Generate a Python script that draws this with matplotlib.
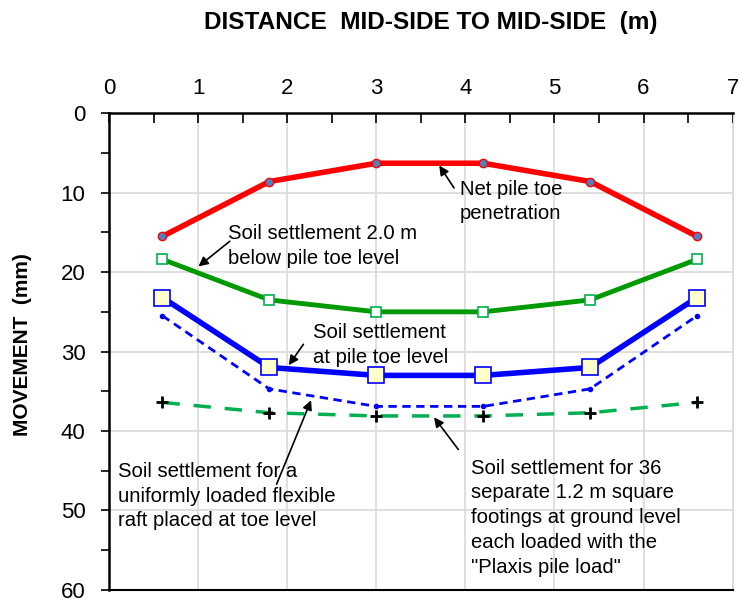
import numpy as np
import matplotlib
matplotlib.use("Agg")
import matplotlib.pyplot as plt
from matplotlib.ticker import MultipleLocator

plt.rcParams['font.family'] = ['Liberation Sans', 'DejaVu Sans']

# ---------------------------------------------------------------------
# data
# ---------------------------------------------------------------------
distance = [0.6, 1.8, 3.0, 4.2, 5.4, 6.6]
net_pile_toe = [15.5, 8.6, 6.3, 6.3, 8.6, 15.5]
soil_below_toe = [18.4, 23.5, 25.0, 25.0, 23.5, 18.4]
soil_at_toe = [23.2, 32.0, 33.0, 33.0, 32.0, 23.2]
flexible_raft = [25.5, 34.7, 36.9, 36.9, 34.7, 25.5]
separate_footings = [36.4, 37.7, 38.1, 38.1, 37.7, 36.4]

x_label = "DISTANCE  MID-SIDE TO MID-SIDE  (m)"
y_label = "MOVEMENT  (mm)"

fig = plt.figure(figsize=(7.38, 6.02), dpi=100)
ax = fig.add_axes([0.1477, 0.020, 0.845, 0.792])

# series
ax.plot(distance, net_pile_toe, color='#ff0000', lw=4, marker='o', ms=6,
        mfc='#4f81bd', mec='#ff0000', mew=1, zorder=5)
ax.plot(distance, soil_below_toe, color='#009a00', lw=3.5, marker='s', ms=7,
        mfc='white', mec='#00b050', mew=1.2, zorder=5)
ax.plot(distance, soil_at_toe, color='#0000ff', lw=4, marker='s', ms=11,
        mfc='#ffffcc', mec='#0000ff', mew=1.2, zorder=6)
ax.plot(distance, flexible_raft, color='#0000ff', lw=2, ls=(0, (3, 2)),
        marker='o', ms=3, zorder=4)
ax.plot(distance, separate_footings, color='#00b050', lw=2.5, ls=(0, (5, 4)),
        marker='+', ms=9, mec='black', mew=2, zorder=4)

# axes
ax.set_xlim(0, 7)
ax.set_ylim(60, 0)
ax.xaxis.set_major_locator(MultipleLocator(1))
ax.xaxis.set_minor_locator(MultipleLocator(0.5))
ax.yaxis.set_major_locator(MultipleLocator(10))
ax.yaxis.set_minor_locator(MultipleLocator(5))
ax.xaxis.tick_top()
ax.tick_params(axis='x', which='both', direction='in', length=7, width=1.2,
               labelsize=16, pad=10.5)
ax.tick_params(axis='y', which='both', direction='out', length=6, width=1.2,
               labelsize=16, pad=11)
ax.tick_params(axis='x', which='both', bottom=False)
ax.tick_params(axis='y', which='both', right=False)

ax.grid(True, which='major', color='#d9d9d9', lw=1.2)
ax.set_axisbelow(True)
for side in ['left', 'top']:
    ax.spines[side].set_linewidth(1.8)
ax.spines['bottom'].set_linewidth(1.5)
ax.spines['right'].set_color('#d9d9d9')

fig.text(0.583, 0.963, x_label, fontsize=17.6, fontweight='bold',
         ha='center', va='center')
fig.text(0.030, 0.427, y_label, fontsize=15, fontweight='bold',
         ha='center', va='center', rotation=90)

# annotations
arrow = dict(arrowstyle='-|>', color='black', lw=1.2, mutation_scale=14)
note = dict(fontsize=14.6, ha='left', va='center', linespacing=1.38)

ax.annotate("", xy=(3.69, 6.3), xytext=(3.89, 9.7), arrowprops=arrow)
ax.text(3.94, 11.1, "Net pile toe\npenetration", **note)

ax.annotate("", xy=(0.98, 19.5), xytext=(1.38, 15.9), arrowprops=arrow)
ax.text(1.34, 16.7, "Soil settlement 2.0 m\nbelow pile toe level", **note)

ax.annotate("", xy=(2.0, 32.0), xytext=(2.2, 28.8), arrowprops=arrow)
ax.text(2.29, 29.2, "Soil settlement\nat pile toe level", **note)

ax.annotate("", xy=(2.28, 35.8), xytext=(1.87, 47.0), arrowprops=arrow)
ax.text(0.10, 48.2, "Soil settlement for a\nuniformly loaded flexible\nraft placed at toe level",
        **note)

ax.annotate("", xy=(3.63, 38.0), xytext=(3.94, 42.6), arrowprops=arrow)
ax.text(4.06, 50.9, "Soil settlement for 36\nseparate 1.2 m square\nfootings at ground level\neach loaded with the\n\"Plaxis pile load\"",
        **note)

fig.savefig("out.png", dpi=100)
